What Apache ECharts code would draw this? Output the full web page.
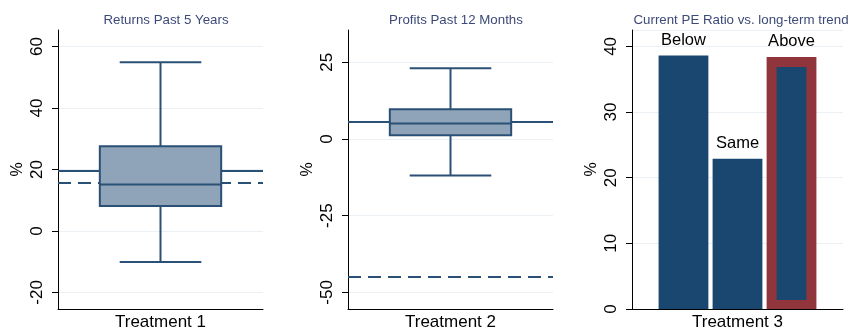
<!DOCTYPE html>
<html>
<head>
<meta charset="utf-8">
<script src="https://cdn.jsdelivr.net/npm/echarts@6/dist/echarts.min.js"></script>
<style>html,body{margin:0;padding:0;background:#fff}#c{width:850px;height:333px}</style>
</head>
<body>
<div id="c"></div>
<script>
// ---- data ----
const titles = ['Returns Past 5 Years', 'Profits Past 12 Months', 'Current PE Ratio vs. long-term trend'];
const categories1 = ['Treatment 1'];
const categories2 = ['Treatment 2'];
const categories3 = ['Treatment 3'];
// [min whisker, Q1, median, Q3, max whisker]
const box1 = [-10.1, 8.1, 15.1, 27.6, 54.9];
const box2 = [-11.9, 1.2, 5.0, 9.7, 23.0];
const solidLine1 = 19.6, dashLine1 = 15.8;
const solidLine2 = 5.7, dashLine2 = -45.0;
const barLabels = ['Below', 'Same', 'Above'];
const barValues = [38.6, 22.9, 38.4];
const highlightIndex = 2;
const ticks1 = [-20, 0, 20, 40, 60];
const ticks2 = [-50, -25, 0, 25];

const FONT = 'Liberation Sans, Arial, Helvetica, sans-serif';
const LINE = '#2b5075';
const BOXFILL = '#8fa4b9';
const NAVY = '#1a476f';
const MAROON = '#90353b';
const GRIDC = '#eaf0f3';

const chart = echarts.init(document.getElementById('c'));

function boxRender(params, api) {
  const cx = api.coord([0, api.value(3)])[0];
  const band = api.size([1, 0])[0];
  const hw = band * 0.296, cw = band * 0.199;
  const y = [1,2,3,4,5].map(i => api.coord([0, api.value(i)])[1]);
  const ls = {stroke: LINE, lineWidth: 2};
  return {
    type: 'group',
    children: [
      {type: 'line', shape: {x1: cx, y1: y[3], x2: cx, y2: y[4]}, style: ls},
      {type: 'line', shape: {x1: cx, y1: y[0], x2: cx, y2: y[1]}, style: ls},
      {type: 'line', shape: {x1: cx - cw, y1: y[4], x2: cx + cw, y2: y[4]}, style: ls},
      {type: 'line', shape: {x1: cx - cw, y1: y[0], x2: cx + cw, y2: y[0]}, style: ls},
      {type: 'rect', shape: {x: cx - hw, y: y[3], width: 2 * hw, height: y[1] - y[3]}, style: {fill: BOXFILL, stroke: LINE, lineWidth: 2}},
      {type: 'line', shape: {x1: cx - hw, y1: y[2], x2: cx + hw, y2: y[2]}, style: ls}
    ]
  };
}

function barRender(params, api) {
  const idx = api.value(2);
  const base = api.coord([0, 0]);
  const top = api.coord([0, api.value(1)])[1];
  const band = api.size([1, 0])[0];
  const bw = band * 0.236, gap = band * 0.02;
  const left = base[0] + (idx - 1) * (bw + gap) - bw / 2;
  const children = [];
  if (idx === highlightIndex) {
    children.push({type: 'rect', shape: {x: left, y: top, width: bw, height: base[1] - top}, style: {fill: MAROON}});
    children.push({type: 'rect', shape: {x: left + 10, y: top + 10, width: bw - 20, height: base[1] - top - 19}, style: {fill: NAVY}});
  } else {
    children.push({type: 'rect', shape: {x: left, y: top, width: bw, height: base[1] - top}, style: {fill: NAVY}});
  }
  children.push({type: 'text', style: {text: barLabels[idx], x: left + bw / 2, y: top - 15, align: 'center', verticalAlign: 'middle', fontSize: 16.5, fontFamily: FONT, fill: '#000'}});
  return {type: 'group', children};
}

function markLines(solid, dash) {
  return {
    silent: true, symbol: ['none', 'none'], label: {show: false}, z: 1,
    emphasis: {disabled: true},
    data: [
      {yAxis: solid, lineStyle: {color: LINE, width: 2, type: 'solid'}},
      {yAxis: dash, lineStyle: {color: LINE, width: 2, type: [13, 7]}}
    ]
  };
}

function xAxis(idx, cats) {
  return {
    type: 'category', gridIndex: idx, data: cats,
    axisTick: {show: false},
    axisLine: {show: true, onZero: false, lineStyle: {color: '#000', width: 1}},
    axisLabel: {fontSize: 17, color: '#000', fontFamily: FONT, margin: 5},
    splitLine: {show: false}
  };
}
function yAxis(idx, extra, ticks) {
  const tick = {show: true, length: 6, lineStyle: {color: '#000'}};
  const label = {rotate: 90, fontSize: 17, color: '#000', fontFamily: FONT, margin: 12};
  if (ticks) { tick.customValues = ticks; label.customValues = ticks; }
  return Object.assign({
    type: 'value', gridIndex: idx,
    name: '%', nameLocation: 'middle', nameRotate: 90, nameGap: 32,
    nameTextStyle: {fontSize: 16, color: '#000', fontFamily: FONT},
    axisLine: {show: true, lineStyle: {color: '#000', width: 1}},
    axisTick: tick,
    axisLabel: label,
    splitLine: {show: true, lineStyle: {color: GRIDC, width: 1}}
  }, extra);
}

const titleCenters = [161, 451, 736];

chart.setOption({
  animation: false,
  backgroundColor: '#fff',
  title: titles.map((t, i) => ({
    text: t, left: titleCenters[i], top: 9, textAlign: 'center',
    textStyle: {fontSize: 13.3, fontWeight: 'normal', color: '#3d4a78', fontFamily: FONT}
  })),
  grid: [
    {left: 58, top: 30, width: 205, height: 279},
    {left: 348, top: 30, width: 205, height: 279},
    {left: 632, top: 30, width: 211, height: 279}
  ],
  xAxis: [xAxis(0, categories1), xAxis(1, categories2), xAxis(2, categories3)],
  yAxis: [
    yAxis(0, {min: -25.4, max: 65.4}, ticks1),
    yAxis(1, {min: -55.4, max: 35.5}, ticks2),
    yAxis(2, {min: 0, max: 42.5, interval: 10})
  ],
  series: [
    {type: 'custom', xAxisIndex: 0, yAxisIndex: 0, z: 10, renderItem: boxRender,
     encode: {x: 0, y: [1,2,3,4,5]}, data: [[0].concat(box1)], markLine: markLines(solidLine1, dashLine1)},
    {type: 'custom', xAxisIndex: 1, yAxisIndex: 1, z: 10, renderItem: boxRender,
     encode: {x: 0, y: [1,2,3,4,5]}, data: [[0].concat(box2)], markLine: markLines(solidLine2, dashLine2)},
    {type: 'custom', xAxisIndex: 2, yAxisIndex: 2, z: 10, renderItem: barRender,
     encode: {x: 0, y: 1}, data: barValues.map((v, i) => [0, v, i])}
  ]
});
</script>
</body>
</html>
